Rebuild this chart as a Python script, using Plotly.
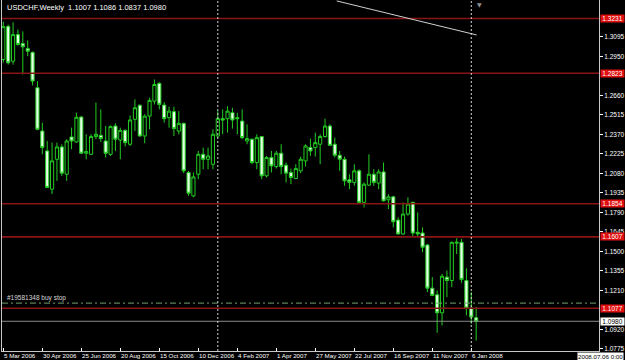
import plotly.graph_objects as go

# ---------------- data ----------------
title_text = "USDCHF,Weekly  1.1007 1.1086 1.0837 1.0980"

bar_pos = list(range(98))  # weekly bars, 5 Mar 2006 .. 13 Jan 2008

opens = [1.2926, 1.3172, 1.2913, 1.3111, 1.3044, 1.3007, 1.2979, 1.2716, 1.2394, 1.2246,
         1.1962, 1.2184, 1.2276, 1.2073, 1.2350, 1.2313, 1.2498, 1.2229, 1.2221, 1.2353,
         1.2362, 1.2320, 1.2221, 1.2431, 1.2327, 1.2399, 1.2296, 1.2481, 1.2585, 1.2357,
         1.2505, 1.2616, 1.2748, 1.2587, 1.2493, 1.2538, 1.2394, 1.2451, 1.2086, 1.1912,
         1.2073, 1.2221, 1.2184, 1.2147, 1.2357, 1.2486, 1.2486, 1.2530, 1.2493, 1.2468,
         1.2320, 1.2333, 1.2160, 1.2353, 1.2061, 1.2197, 1.2130, 1.2229, 1.2140, 1.2086,
         1.2041, 1.2098, 1.2172, 1.2271, 1.2271, 1.2296, 1.2353, 1.2431, 1.2296, 1.2214,
         1.2184, 1.2031, 1.2012, 1.2098, 1.1864, 1.1992, 1.2073, 1.2007, 1.2090, 1.1883,
         1.1905, 1.1732, 1.1629, 1.1777, 1.1864, 1.1641, 1.1636, 1.1547, 1.1226, 1.1177,
         1.1043, 1.1308, 1.1283, 1.1560, 1.1567, 1.1283, 1.1078, 1.1007]
highs = [1.3207, 1.3185, 1.3202, 1.3148, 1.3135, 1.3068, 1.2985, 1.2765, 1.2456, 1.2320,
         1.2308, 1.2308, 1.2296, 1.2333, 1.2419, 1.2530, 1.2505, 1.2370, 1.2370, 1.2605,
         1.2555, 1.2431, 1.2436, 1.2451, 1.2419, 1.2407, 1.2510, 1.2629, 1.2592, 1.2518,
         1.2642, 1.2777, 1.2757, 1.2609, 1.2575, 1.2575, 1.2542, 1.2456, 1.2098, 1.2086,
         1.2246, 1.2271, 1.2271, 1.2407, 1.2542, 1.2555, 1.2579, 1.2567, 1.2530, 1.2555,
         1.2444, 1.2338, 1.2370, 1.2357, 1.2209, 1.2246, 1.2246, 1.2296, 1.2160, 1.2115,
         1.2147, 1.2204, 1.2296, 1.2338, 1.2382, 1.2370, 1.2486, 1.2444, 1.2345, 1.2246,
         1.2204, 1.2073, 1.2147, 1.2110, 1.2012, 1.2221, 1.2110, 1.2110, 1.2160, 1.1925,
         1.1912, 1.1752, 1.1864, 1.1901, 1.1868, 1.1789, 1.1678, 1.1555, 1.1308, 1.1209,
         1.1332, 1.1357, 1.1572, 1.1597, 1.1592, 1.1374, 1.1197, 1.1086]
lows = [1.2903, 1.2888, 1.2888, 1.3029, 1.2814, 1.2950, 1.2733, 1.2400, 1.2221, 1.1970,
        1.1925, 1.2024, 1.2061, 1.2024, 1.2259, 1.2308, 1.2225, 1.2184, 1.2218, 1.2333,
        1.2313, 1.2197, 1.2209, 1.2246, 1.2184, 1.2279, 1.2283, 1.2394, 1.2353, 1.2303,
        1.2407, 1.2592, 1.2555, 1.2456, 1.2419, 1.2357, 1.2370, 1.2081, 1.1912, 1.1901,
        1.2036, 1.2110, 1.2110, 1.2110, 1.2345, 1.2370, 1.2382, 1.2412, 1.2370, 1.2333,
        1.2296, 1.2147, 1.2110, 1.2036, 1.2049, 1.2086, 1.2115, 1.2073, 1.2012, 1.1999,
        1.2036, 1.2081, 1.2130, 1.2209, 1.2204, 1.2147, 1.2345, 1.2283, 1.2197, 1.2098,
        1.1987, 1.1962, 1.1987, 1.1860, 1.1826, 1.1987, 1.1987, 1.1962, 1.1870, 1.1814,
        1.1678, 1.1625, 1.1621, 1.1764, 1.1612, 1.1604, 1.1493, 1.1197, 1.1167, 1.0895,
        1.0949, 1.1160, 1.1234, 1.1480, 1.1266, 1.1023, 1.0962, 1.0837]
closes = [1.3170, 1.2901, 1.3111, 1.3037, 1.3020, 1.2987, 1.2765, 1.2407, 1.2271, 1.1975,
          1.2172, 1.2276, 1.2081, 1.2320, 1.2320, 1.2496, 1.2229, 1.2241, 1.2353, 1.2370,
          1.2338, 1.2229, 1.2427, 1.2333, 1.2399, 1.2308, 1.2476, 1.2567, 1.2357, 1.2505,
          1.2622, 1.2740, 1.2592, 1.2486, 1.2542, 1.2412, 1.2451, 1.2098, 1.1932, 1.2053,
          1.2221, 1.2184, 1.2209, 1.2370, 1.2486, 1.2476, 1.2542, 1.2476, 1.2486, 1.2345,
          1.2338, 1.2160, 1.2345, 1.2061, 1.2197, 1.2135, 1.2229, 1.2130, 1.2081, 1.2049,
          1.2115, 1.2184, 1.2283, 1.2246, 1.2308, 1.2353, 1.2431, 1.2288, 1.2214, 1.2184,
          1.2024, 1.2012, 1.2098, 1.1864, 1.1999, 1.2073, 1.2012, 1.2090, 1.1875, 1.1905,
          1.1720, 1.1629, 1.1777, 1.1851, 1.1636, 1.1629, 1.1530, 1.1226, 1.1172, 1.1043,
          1.1315, 1.1283, 1.1567, 1.1567, 1.1290, 1.1078, 1.1011, 1.0980]

date_tick_pos = [0, 8, 16, 24, 32, 40, 48, 56, 64, 72, 80, 88, 96]
date_tick_labels = ["5 Mar 2006", "30 Apr 2006", "25 Jun 2006", "20 Aug 2006",
                    "15 Oct 2006", "10 Dec 2006", "4 Feb 2007", "1 Apr 2007",
                    "27 May 2007", "22 Jul 2007", "16 Sep 2007", "11 Nov 2007",
                    "6 Jan 2008"]

# price scale labels visible in the reference (those hidden behind the level boxes are left out)
price_ticks = [1.3095, 1.2950, 1.2660, 1.2515, 1.2370, 1.2225, 1.2080, 1.1935,
               1.1790, 1.1645, 1.1500, 1.1355, 1.1210, 1.0920, 1.0775]
price_tick_labels = ["1.3095", "1.2950", "1.2660", "1.2515", "1.2370", "1.2225",
                     "1.2080", "1.1935", "1.1790", "1.1645", "1.1500", "1.1355", "1.1210",
                     "1.0920", "1.0775"]

red_levels = [1.3231, 1.2823, 1.1854, 1.1607, 1.1077]
red_level_labels = ["1.3231", "1.2823", "1.1854", "1.1607", "1.1077"]
bid_price = 1.0980
bid_label = "1.0980"
order_level = 1.1115
order_label = "#19581348 buy stop"
year_sep_pos = [44, 96]
trend_x = [68.4, 97.1]
trend_y = [1.3361, 1.3108]
shift_marker_pos = 97.6
time_box_text = "2008.07.06 0:00"

# ---------------- figure ----------------
FONT = "Liberation Sans"
candle_line = "#22cc22"

fig = go.Figure()
fig.add_trace(go.Candlestick(
    x=bar_pos, open=opens, high=highs, low=lows, close=closes,
    increasing=dict(line=dict(color=candle_line, width=1), fillcolor="#000000"),
    decreasing=dict(line=dict(color=candle_line, width=1), fillcolor="#e6ffe6"),
    whiskerwidth=0, hoverinfo="skip", showlegend=False,
))

shapes = []
for lv in red_levels:
    shapes.append(dict(type="line", xref="paper", x0=0, x1=1, yref="y", y0=lv, y1=lv,
                       line=dict(color="#8a1414", width=1.6), layer="above"))
shapes.append(dict(type="line", xref="paper", x0=0, x1=1, yref="y", y0=bid_price, y1=bid_price,
                   line=dict(color="#8a8a8a", width=1), layer="above"))
shapes.append(dict(type="line", xref="paper", x0=0, x1=1, yref="y", y0=order_level, y1=order_level,
                   line=dict(color="#6f9f6f", width=1, dash="6px,3px,2px,3px"), layer="above"))
for p in year_sep_pos:
    shapes.append(dict(type="line", xref="x", x0=p, x1=p, yref="paper", y0=0, y1=1,
                       line=dict(color="#d8d8d8", width=1, dash="2px,2px"), layer="above"))
shapes.append(dict(type="line", xref="x", x0=trend_x[0], x1=trend_x[1], yref="y",
                   y0=trend_y[0], y1=trend_y[1], line=dict(color="#d0d0d0", width=1)))

annotations = []
annotations.append(dict(text=title_text, xref="paper", x=0, xanchor="left", xshift=3,
                        yref="paper", y=1, yanchor="top", yshift=-1, showarrow=False,
                        font=dict(family=FONT, size=7.5, color="#ffffff")))
annotations.append(dict(text=order_label, xref="paper", x=0, xanchor="left", xshift=3,
                        yref="y", y=order_level, yanchor="bottom", yshift=-1, showarrow=False,
                        font=dict(family=FONT, size=6.5, color="#d8d8d8")))
for p, lab in zip(date_tick_pos, date_tick_labels):
    annotations.append(dict(text=lab, xref="x", x=p, xanchor="left", xshift=-1,
                            yref="paper", y=0, yanchor="top", yshift=1, showarrow=False,
                            font=dict(family=FONT, size=6.2, color="#ffffff")))
for lv, lab in zip(red_levels, red_level_labels):
    annotations.append(dict(text=lab, xref="paper", x=1, xanchor="left", xshift=1,
                            yref="y", y=lv, yanchor="middle", showarrow=False,
                            bgcolor="#e01010", borderpad=0, width=23,
                            font=dict(family=FONT, size=6.5, color="#ffffff")))
annotations.append(dict(text=bid_label, xref="paper", x=1, xanchor="left", xshift=1,
                        yref="y", y=bid_price, yanchor="middle", showarrow=False,
                        bgcolor="#ffffff", borderpad=0, width=23,
                        font=dict(family=FONT, size=6.5, color="#000000")))
annotations.append(dict(text=time_box_text, xref="paper", x=1, xanchor="right", xshift=25,
                        yref="paper", y=0, yanchor="top", yshift=-1, showarrow=False,
                        bgcolor="#ffffff", borderpad=0,
                        font=dict(family=FONT, size=6.2, color="#000000")))
annotations.append(dict(text="\u25BC", xref="x", x=shift_marker_pos, xanchor="center",
                        yref="paper", y=1, yanchor="top", yshift=1, showarrow=False,
                        font=dict(family="DejaVu Sans", size=6, color="#909090")))

fig.update_layout(
    width=625, height=360,
    margin=dict(l=2, r=26, t=0, b=9, pad=0),
    paper_bgcolor="#000000", plot_bgcolor="#000000",
    shapes=shapes, annotations=annotations,
    boxgap=0.35, boxgroupgap=0,
    showlegend=False,
    xaxis=dict(range=[-0.27, 122.2], rangeslider=dict(visible=False),
               showgrid=False, zeroline=False, showline=True, linecolor="#c8c8c8",
               linewidth=1, mirror=True,
               tickmode="array", tickvals=date_tick_pos, showticklabels=False,
               ticks="inside", ticklen=3, tickcolor="#ffffff", automargin=False,
               fixedrange=True),
    yaxis=dict(range=[1.0759, 1.3368], side="right",
               showgrid=False, zeroline=False, showline=True, linecolor="#c8c8c8",
               linewidth=1, mirror=True,
               tickmode="array", tickvals=price_ticks, ticktext=price_tick_labels,
               ticks="outside", ticklen=3, tickcolor="#ffffff",
               tickfont=dict(family=FONT, size=6.5, color="#ffffff"),
               automargin=False, fixedrange=True),
)

fig.write_html("out.html")
